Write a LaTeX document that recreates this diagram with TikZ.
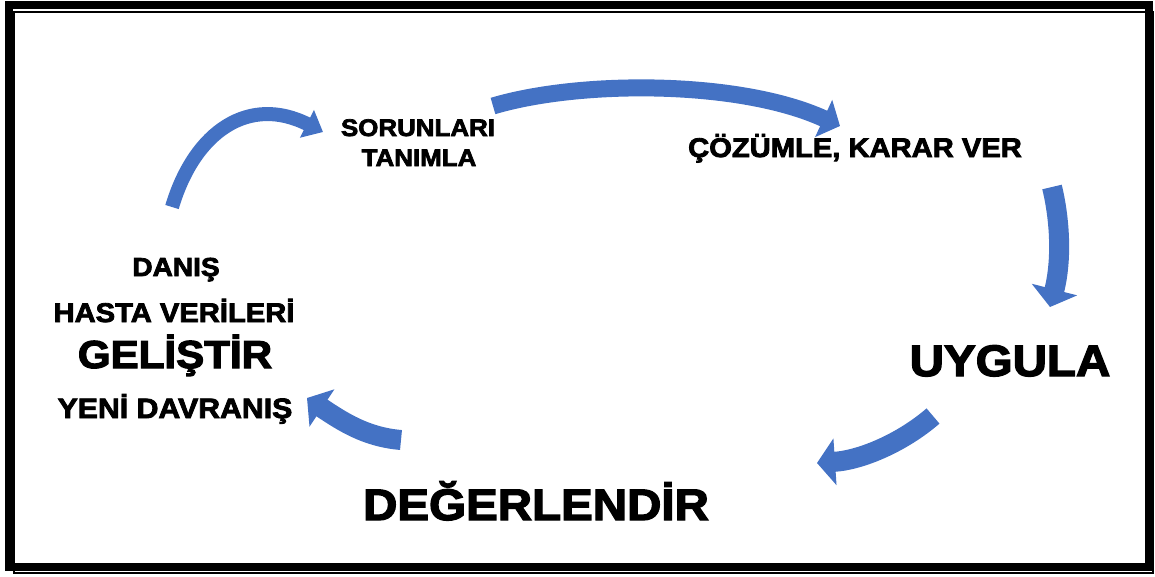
\documentclass[tikz,border=0pt]{standalone}
\usepackage{fontspec}
\usepackage{tikz}
\usetikzlibrary{arrows.meta}
\newfontfamily\heavy[FakeBold=3,FakeStretch=1.08]{Liberation Sans Bold}
\newcommand\lblfont[1]{\heavy\fontsize{#1}{#1}\selectfont}
\definecolor{arrowblue}{HTML}{4472C4}

\begin{document}
\begin{tikzpicture}[x=1pt, y=-1pt,
    lbl/.style={inner sep=0pt, anchor=base, font=\lblfont{#1}},
    flow/.style 2 args={draw=arrowblue, line width=#1, -{Triangle[width=#2, length=18pt]}}]
    \useasboundingbox (0,0) rectangle (1155,576);

    % Frame
    \draw[line width=8pt] (8.5,4.5) rectangle (1149,567);
    \draw[line width=2pt] (14,12) rectangle (1153,572.5);

    % Labels
    \node[lbl=24] (sorun1) at (418,136) {SORUNLARI};
    \node[lbl=24] (sorun2) at (419,166) {TANIMLA};
    \node[lbl=27] (cozum) at (855,157) {ÇÖZÜMLE, KARAR VER};
    \node[lbl=44] (uygula) at (1010,376) {UYGULA};
    \node[lbl=44] (deger) at (536,520) {DEĞERLENDİR};
    \node[lbl=26] (danis) at (176,276) {DANIŞ};
    \node[lbl=27] (hasta) at (174,322) {HASTA VERİLERİ};
    \node[lbl=39] (gelis) at (175,368) {GELİŞTİR};
    \node[lbl=28] (yeni) at (175,418) {YENİ DAVRANIŞ};

    % Arrow ends
    \coordinate (a1s) at (172,207);
    \coordinate (a1e) at (323,132);
    \coordinate (a2s) at (493,106);
    \coordinate (a2e) at (840,126);
    \coordinate (a3s) at (1052,187);
    \coordinate (a3e) at (1050,307);
    \coordinate (a4s) at (933,416);
    \coordinate (a4e) at (817,463);
    \coordinate (a5s) at (401,440);
    \coordinate (a5e) at (307,398);

    % Connect
    \draw[flow={14pt}{30pt}] (a1s) .. controls (195,130) and (250,95) .. (a1e);
    \draw[flow={17pt}{40pt}] (a2s) .. controls (580,80) and (740,80) .. (a2e);
    \draw[flow={20pt}{46pt}] (a3s) .. controls (1060,220) and (1062,260) .. (a3e);
    \draw[flow={20pt}{46pt}] (a4s) .. controls (903,442) and (862,460) .. (a4e);
    \draw[flow={20pt}{44pt}] (a5s) .. controls (366,437) and (343,422) .. (a5e);
\end{tikzpicture}
\end{document}
